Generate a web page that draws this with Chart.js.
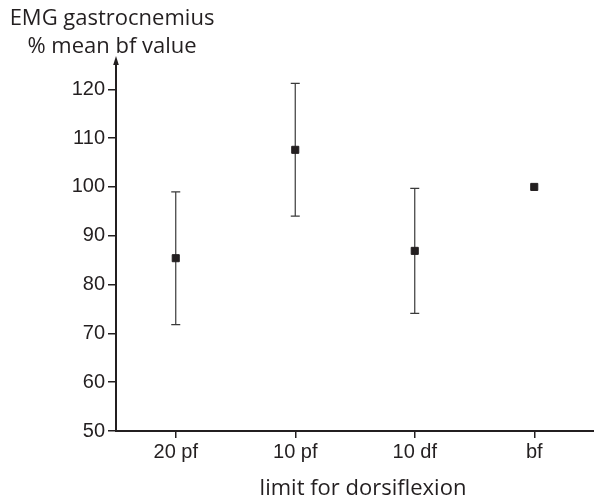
<!DOCTYPE html>
<html>
<head>
<meta charset="utf-8">
<script src="https://cdn.jsdelivr.net/npm/chart.js@4"></script>
<style>
  body { margin: 0; background: #fff; }
</style>
</head>
<body>
<canvas id="emg-chart" width="594" height="500"></canvas>
<script>
const limits = ['20 pf', '10 pf', '10 df', 'bf'];
const meanValues = [85.4, 107.6, 86.9, 100];
const upperValues = [99.0, 121.2, 99.7, null];
const lowerValues = [71.8, 94.0, 74.1, null];
const yTicks = [50, 60, 70, 80, 90, 100, 110, 120];

const ink = '#231f20';
const labelFont = '"Open Sans", "Noto Sans", sans-serif';

// whiskers drawn under the square markers
const errorBars = {
    id: 'errorBars',
    beforeDatasetsDraw(chart) {
        const ctx = chart.ctx;
        const x = chart.scales.x;
        const y = chart.scales.y;
        ctx.save();
        ctx.strokeStyle = '#3a3a3a';
        ctx.lineWidth = 1.2;
        limits.forEach((name, i) => {
            if (upperValues[i] == null) return;
            const px = x.getPixelForValue(i);
            const top = y.getPixelForValue(upperValues[i]);
            const bottom = y.getPixelForValue(lowerValues[i]);
            ctx.beginPath();
            ctx.moveTo(px, top);
            ctx.lineTo(px, bottom);
            ctx.moveTo(px - 4.5, top);
            ctx.lineTo(px + 4.5, top);
            ctx.moveTo(px - 4.5, bottom);
            ctx.lineTo(px + 4.5, bottom);
            ctx.stroke();
        });
        ctx.restore();
    }
};

// axis arrow and the axis captions
const axisDecor = {
    id: 'axisDecor',
    afterDraw(chart) {
        const ctx = chart.ctx;
        const area = chart.chartArea;
        ctx.save();
        ctx.fillStyle = ink;
        ctx.beginPath();
        ctx.moveTo(area.left, area.top - 4);
        ctx.lineTo(area.left - 2.8, area.top + 5);
        ctx.lineTo(area.left + 2.8, area.top + 5);
        ctx.closePath();
        ctx.fill();

        ctx.font = '22px ' + labelFont;
        ctx.textAlign = 'center';
        ctx.textBaseline = 'alphabetic';
        ctx.fillText('EMG gastrocnemius', 112, 25);
        ctx.fillText('% mean bf value', 112, 53);
        ctx.fillText('limit for dorsiflexion', 363, 495);
        ctx.restore();
    }
};

new Chart(document.getElementById('emg-chart'), {
    type: 'line',
    data: {
        labels: limits,
        datasets: [{
            data: meanValues,
            showLine: false,
            pointStyle: 'rect',
            pointRadius: 5,
            pointBorderWidth: 1,
            pointBackgroundColor: ink,
            pointBorderColor: ink
        }]
    },
    options: {
        responsive: false,
        animation: false,
        layout: { autoPadding: false, padding: { top: 60, right: 0, left: 0, bottom: 0 } },
        plugins: {
            legend: { display: false },
            tooltip: { enabled: false }
        },
        scales: {
            x: {
                type: 'category',
                offset: true,
                grid: { offset: false, drawOnChartArea: false, tickLength: 7, color: ink, lineWidth: 1.5 },
                border: { color: ink, width: 2 },
                ticks: { color: ink, font: { family: '"Liberation Sans", Arial, sans-serif', size: 20 }, padding: 2 },
                afterFit(scale) {
                    scale.height = 69;
                    scale.paddingLeft = 0;
                    scale.paddingRight = 0;
                }
            },
            y: {
                min: 50,
                max: 126,
                grid: { drawOnChartArea: false, tickLength: 8, color: ink, lineWidth: 1.5 },
                border: { color: ink, width: 2 },
                afterBuildTicks(scale) { scale.ticks = yTicks.map(v => ({ value: v })); },
                ticks: { color: ink, font: { family: '"Liberation Sans", Arial, sans-serif', size: 20 }, padding: 3 },
                afterFit(scale) {
                    scale.width = 116;
                    scale.paddingTop = 0;
                    scale.paddingBottom = 0;
                }
            }
        }
    },
    plugins: [errorBars, axisDecor]
});
</script>
</body>
</html>
